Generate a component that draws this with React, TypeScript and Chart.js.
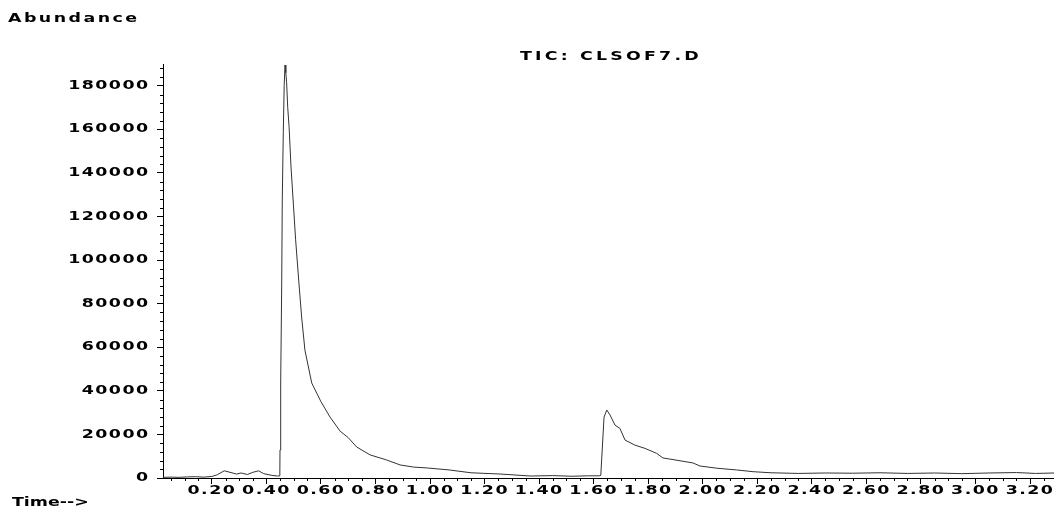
import React, { useEffect, useRef } from 'react';
import { Chart, registerables } from 'chart.js';

Chart.register(...registerables);

// Retention time (min)
const times = [
  0.02, 0.05, 0.08, 0.11, 0.14, 0.17, 0.2, 0.22, 0.245, 0.27, 0.29, 0.307, 0.33, 0.35, 0.371, 0.39, 0.42, 0.44, 0.449,
  0.4497, 0.4522, 0.4559, 0.458, 0.4617, 0.465, 0.468, 0.471, 0.474, 0.478, 0.483, 0.49, 0.507, 0.519, 0.529, 0.541,
  0.566, 0.6, 0.633, 0.67, 0.7, 0.731, 0.78, 0.84, 0.89, 0.94, 0.99, 1.07, 1.15, 1.26, 1.37, 1.45, 1.52, 1.58, 1.62,
  1.626, 1.638, 1.648, 1.66, 1.678, 1.696, 1.715, 1.751, 1.788, 1.831, 1.854, 1.898, 1.964, 1.99, 2.051, 2.124, 2.184,
  2.25, 2.35, 2.45, 2.55, 2.65, 2.75, 2.85, 2.95, 3.05, 3.15, 3.22, 3.29,
];

// Total ion current abundance
const abundance = [
  300, 400, 300, 500, 600, 400, 700, 1500, 3300, 2500, 1800, 2300, 1600, 2600, 3300, 2000, 1200, 900, 1000,
  12900, 43600, 89500, 127600, 158400, 180000, 189500, 186000, 181400, 170000, 161200, 142800, 109300, 89500, 73900, 58700,
  43600, 35000, 28000, 21500, 18500, 14200, 10600, 8300, 6000, 5000, 4600, 3700, 2400, 1800, 900, 1100, 800, 1000, 1000,
  1200, 28000, 31200, 28900, 24300, 22800, 17400, 15100, 13600, 11300, 9200, 8300, 6900, 5500, 4500, 3700, 2900,
  2400, 2100, 2300, 2200, 2400, 2100, 2300, 2000, 2300, 2500, 2100, 2300,
];

const xTickValues = [0.2, 0.4, 0.6, 0.8, 1.0, 1.2, 1.4, 1.6, 1.8, 2.0, 2.2, 2.4, 2.6, 2.8, 3.0, 3.2];
const yTickValues = [0, 20000, 40000, 60000, 80000, 100000, 120000, 140000, 160000, 180000];

const Y_TITLE = 'Abundance';
const CHART_TITLE = 'TIC: CLSOF7.D';
const X_TITLE = 'Time-->';

const FONT_FAMILY = '"DejaVu Sans", sans-serif';
const TEXT_STRETCH = 1.45;

function stretchText(ctx: any) {
  if (ctx.__stretched) return;
  const orig = ctx.fillText.bind(ctx);
  ctx.fillText = (text: string, x: number, y: number, maxW?: number) => {
    ctx.save();
    ctx.translate(x, y);
    ctx.scale(TEXT_STRETCH, 1);
    if (maxW === undefined || maxW === null) orig(text, 0, 0);
    else orig(text, 0, 0, maxW / TEXT_STRETCH);
    ctx.restore();
  };
  ctx.__stretched = true;
}

const spacingPlugin = {
  id: 'spacing',
  beforeUpdate(chart: any) {
    stretchText(chart.ctx);
    chart.ctx.letterSpacing = '1px';
  },
  beforeDraw(chart: any) {
    stretchText(chart.ctx);
    chart.ctx.letterSpacing = '1px';
  },
};

const minorTicksPlugin = {
  id: 'minorTicks',
  afterDraw(chart: any) {
    const ctx = chart.ctx;
    const xs = chart.scales.x;
    const ys = chart.scales.y;
    const area = chart.chartArea;
    ctx.save();
    ctx.strokeStyle = '#000';
    ctx.lineWidth = 1;
    ctx.beginPath();
    for (let i = 1; i * 0.05 < xs.max; i++) {
      if (i % 4 === 0) continue;
      const v = i * 0.05;
      if (v < xs.min) continue;
      const px = Math.round(xs.getPixelForValue(v)) + 0.5;
      ctx.moveTo(px, area.bottom);
      ctx.lineTo(px, area.bottom + 3);
    }
    for (let i = 1; i * 4000 <= ys.max; i++) {
      if (i % 5 === 0) continue;
      const py = Math.round(ys.getPixelForValue(i * 4000)) + 0.5;
      ctx.moveTo(area.left, py);
      ctx.lineTo(area.left - 3, py);
    }
    ctx.stroke();

    ctx.fillStyle = '#000';
    ctx.textBaseline = 'middle';
    ctx.textAlign = 'left';
    ctx.font = `bold 12px ${FONT_FAMILY}`;
    ctx.letterSpacing = '1.7px';
    ctx.fillText(Y_TITLE, 8, 18.5);
    ctx.letterSpacing = '2.2px';
    ctx.fillText(CHART_TITLE, 520, 56.5);
    ctx.letterSpacing = '0px';
    ctx.fillText(X_TITLE, 12, 503);
    ctx.restore();
  },
};

export default function App() {
  const canvasRef = useRef<HTMLCanvasElement | null>(null);

  useEffect(() => {
    if (!canvasRef.current) return;
    const points = times.map((t, i) => ({ x: t, y: abundance[i] }));
    const tickFont = { family: FONT_FAMILY, size: 12, weight: 'bold' as const };
    const chart = new Chart(canvasRef.current, {
      type: 'line',
      data: {
        datasets: [
          {
            label: CHART_TITLE,
            data: points,
            borderColor: '#333',
            borderWidth: 1,
            pointRadius: 0,
            tension: 0,
            fill: false,
          },
        ],
      },
      options: {
        animation: false,
        responsive: false,
        maintainAspectRatio: false,
        layout: { padding: { top: 64, left: 0, right: 0, bottom: 0 } },
        plugins: {
          legend: { display: false },
          tooltip: { enabled: false },
          title: { display: false },
        },
        scales: {
          x: {
            type: 'linear',
            min: 0.0206,
            max: 3.288,
            afterBuildTicks: (s: any) => {
              s.ticks = xTickValues.map((v) => ({ value: v }));
            },
            afterFit: (s: any) => {
              s.height = 38;
              s.paddingLeft = 0;
              s.paddingRight = 0;
            },
            ticks: {
              autoSkip: false,
              maxRotation: 0,
              minRotation: 0,
              padding: 0,
              color: '#000',
              font: tickFont,
              callback: (v: any) => Number(v).toFixed(2),
            },
            grid: { drawOnChartArea: false, drawTicks: true, tickLength: 6, color: '#000' },
            border: { display: true, color: '#000', width: 1 },
          },
          y: {
            type: 'linear',
            min: 0,
            max: 190000,
            afterBuildTicks: (s: any) => {
              s.ticks = yTickValues.map((v) => ({ value: v }));
            },
            afterFit: (s: any) => {
              s.width = 163;
              s.paddingTop = 0;
              s.paddingBottom = 0;
            },
            ticks: {
              padding: 7.5,
              color: '#000',
              font: tickFont,
              callback: (v: any) => String(v),
            },
            grid: { drawOnChartArea: false, drawTicks: true, tickLength: 6, color: '#000' },
            border: { display: true, color: '#000', width: 1 },
          },
        },
      },
      plugins: [spacingPlugin, minorTicksPlugin],
    });
    return () => chart.destroy();
  }, []);

  return (
    <div style={{ position: 'fixed', left: 0, top: 0, width: 1054, height: 516, background: '#fff' }}>
      <canvas ref={canvasRef} width={1054} height={516} style={{ display: 'block' }} />
    </div>
  );
}
